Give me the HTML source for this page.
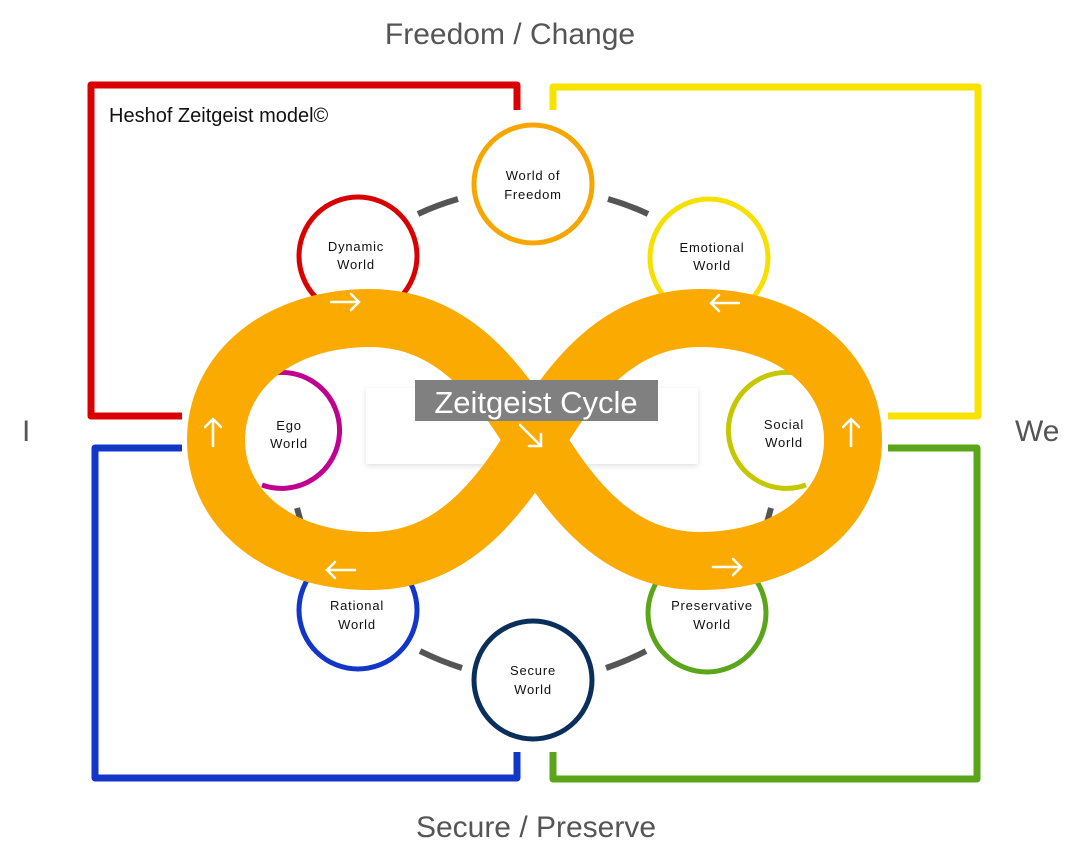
<!DOCTYPE html>
<html><head><meta charset="utf-8"><style>
html,body{margin:0;padding:0;background:#fff;}
svg{display:block;}
text{font-family:"Liberation Sans",sans-serif;}
.l{font-size:13px;letter-spacing:0.8px;fill:#111;text-anchor:middle;}
</style></head><body>
<svg width="1086" height="866" viewBox="0 0 1086 866" xmlns="http://www.w3.org/2000/svg">
<defs><filter id="sh" x="-10%" y="-10%" width="120%" height="130%"><feDropShadow dx="0" dy="2" stdDeviation="3" flood-color="#000" flood-opacity="0.12"/></filter></defs>
<rect width="1086" height="866" fill="#fff"/>
<g fill="none" stroke-width="7" stroke-linejoin="round">
<polyline points="517,110 517,85 91,85 91,416 182,416" stroke="#D80000"/>
<polyline points="553,110 553,87 978,87 978,416 888,416" stroke="#F7E300"/>
<polyline points="182,448 95,448 95,778 517,778 517,752" stroke="#1236C8"/>
<polyline points="888,448 977,448 977,779 553,779 553,752" stroke="#5AA51A"/>
</g>
<text x="510" y="44" font-size="30" fill="#555" text-anchor="middle">Freedom / Change</text>
<text x="536" y="837" font-size="30" fill="#555" text-anchor="middle">Secure / Preserve</text>
<text x="22" y="441" font-size="30" fill="#555">I</text>
<text x="1015" y="441" font-size="30" fill="#555">We</text>
<text x="109" y="122" font-size="20" fill="#111">Heshof Zeitgeist model©</text>
<g stroke="#555" stroke-width="6" fill="none">
<path d="M418,214 Q437,205 458,199"/>
<path d="M608,199 Q629,205 648,214"/>
<path d="M420,651 Q440,661 462,668"/>
<path d="M606,668 Q627,661 646,651"/>
<path d="M299,344 L296,358"/>
<path d="M297,508 L302,526"/>
<path d="M768,344 L772,358"/>
<path d="M771,508 L766,526"/>
</g>
<g fill="none" stroke-width="5">
<circle cx="533" cy="184" r="59" stroke="#F7A600"/>
<circle cx="358" cy="256" r="59" stroke="#D80000"/>
<circle cx="709" cy="258" r="59" stroke="#F5E000"/>
<circle cx="358" cy="610" r="59" stroke="#1236C8"/>
<circle cx="707" cy="613" r="59" stroke="#5AA51A"/>
<circle cx="533" cy="680" r="59" stroke="#0B2F5C"/>
<path d="M268,374 A58,58 0 1 1 262,485" stroke="#C0008F"/>
<path d="M800,374 A58,58 0 1 0 806,485" stroke="#C5C800"/>
</g>
<text class="l" x="356" y="251">Dynamic</text><text class="l" x="356" y="269">World</text>
<text class="l" x="533" y="180">World of</text><text class="l" x="533" y="199">Freedom</text>
<text class="l" x="712" y="252">Emotional</text><text class="l" x="712" y="270">World</text>
<text class="l" x="289" y="430">Ego</text><text class="l" x="289" y="448">World</text>
<text class="l" x="784" y="429">Social</text><text class="l" x="784" y="447">World</text>
<text class="l" x="357" y="610">Rational</text><text class="l" x="357" y="629">World</text>
<text class="l" x="712" y="610">Preservative</text><text class="l" x="712" y="629">World</text>
<text class="l" x="533" y="675">Secure</text><text class="l" x="533" y="694">World</text>
<rect x="366" y="388" width="332" height="76" fill="#fff" filter="url(#sh)"/>
<path d="M535,440 C572,380 618,318 700,318 C790,318 853,370 853,440 C853,510 790,561 700,561 C618,561 572,500 535,440 C498,380 452,318 370,318 C280,318 216,370 216,440 C216,510 280,561 370,561 C452,561 498,500 535,440 Z" fill="none" stroke="#FAAA00" stroke-width="58"/>
<g stroke="#fff" stroke-width="2.5" fill="none" stroke-linecap="round">
<path d="M331,302 H359 M351,294 L359,302 L351,310"/>
<path d="M739,303 H711 M719,295 L711,303 L719,311"/>
<path d="M213,446 V419 M205,427 L213,419 L221,427"/>
<path d="M851,446 V419 M843,427 L851,419 L859,427"/>
<path d="M355,570 H327 M335,562 L327,570 L335,578"/>
<path d="M713,567 H741 M733,559 L741,567 L733,575"/>
<path d="M520,425 L541,446 M541,434 L541,446 L529,446"/>
</g>
<rect x="415" y="380" width="243" height="41" fill="#808080"/>
<text x="536" y="413" font-size="31" fill="#fff" text-anchor="middle">Zeitgeist Cycle</text>
</svg>
</body></html>
